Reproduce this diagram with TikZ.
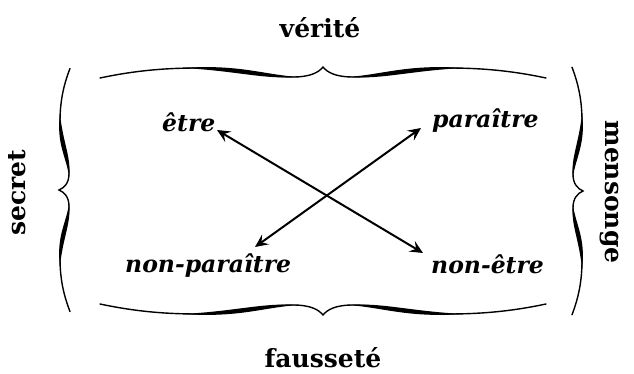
\documentclass[tikz,border=0pt]{standalone}
\usepackage{fontspec}
\setmainfont{DejaVu Serif}
\usetikzlibrary{arrows.meta}
\tikzset{
  pole/.style={font=\fontsize{23.5}{27}\selectfont\bfseries\itshape, inner sep=0pt},
  side/.style={font=\fontsize{25}{29}\selectfont\bfseries, inner sep=0pt},
  bracethin/.style={line width=1.4pt, draw=black, line cap=round},
  bracethick/.style={fill=black},
  relation/.style={line width=2pt, draw=black, {Stealth[length=13pt,width=12pt,inset=5pt]}-{Stealth[length=13pt,width=12pt,inset=5pt]}},
  calibrace/.pic={
    \draw[bracethin] (-223,11) .. controls (-190,4) and (-160,1) .. (-125,1) .. controls (-80,1) and (-60,10) .. (-30,10) .. controls (-12,10) and (-4,5) .. (0,0) .. controls (4,5) and (12,10) .. (30,10) .. controls (60,10) and (80,1) .. (125,1) .. controls (160,1) and (190,4) .. (223,11);
    \fill[bracethick] (-140,1) .. controls (-85,-3) and (-60,7.5) .. (-25,10) .. controls (-60,12.5) and (-85,4) .. cycle;
    \fill[bracethick] (140,1) .. controls (85,-3) and (60,7.5) .. (25,10) .. controls (60,12.5) and (85,4) .. cycle;
  },
}

\begin{document}
\begin{tikzpicture}[x=1pt, y=-1pt]
\useasboundingbox (0,0) rectangle (634,374);
% the four braces
\pic at (323,67) {calibrace};
\pic[yscale=-1] at (323,315) {calibrace};
\pic[rotate=90, xscale=0.545] at (59,190) {calibrace};
\pic[rotate=-90, xscale=0.555] at (583,191) {calibrace};
% outer labels
\node[side, anchor=base] (verite) at (320,38) {vérité};
\node[side, anchor=base] (faussete) at (323,367) {fausseté};
\node[side, anchor=base, rotate=90] (secret) at (25,193) {secret};
\node[side, anchor=base, rotate=-90] (mensonge) at (605,192) {mensonge};
% the square
\node[pole, anchor=base west] (etre) at (162,132) {être};
\node[pole, anchor=base west] (paraitre) at (432,128) {paraître};
\node[pole, anchor=base west] (nonparaitre) at (125,272) {non-paraître};
\node[pole, anchor=base west] (nonetre) at (431,273) {non-être};
\draw[relation] ([shift={(55,-2)}]etre.base west) -- ([shift={(-8,-20)}]nonetre.base west);
\draw[relation] ([shift={(-11,0)}]paraitre.base west) -- ([shift={(130,-25)}]nonparaitre.base west);
\end{tikzpicture}
\end{document}
